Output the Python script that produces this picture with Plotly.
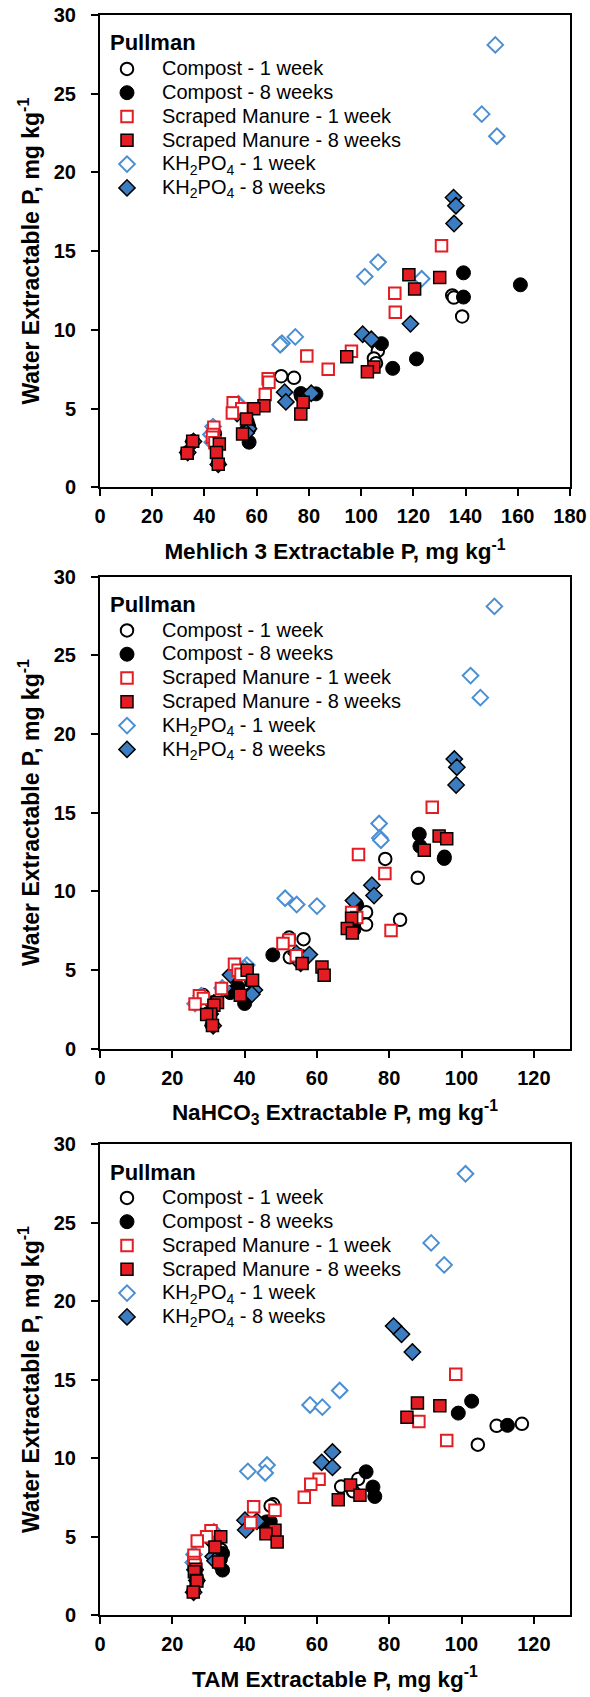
import plotly.graph_objects as go

# ---------------- data (water extractable P vs. other extraction methods) ----------------
# Compost - 1 week
c1_y      = [12.18, 12.05, 10.85, 8.66, 8.18, 7.88, 7.05, 6.95, 5.80, 4.15, 3.75, 3.40]
c1_m3     = [134.9, 135.5, 138.7, 106.4, 104.9, 105.7, 69.4, 74.3, 77.0, 56.5, 57.2, 44.0]
c1_nahco3 = [95.3, 78.9, 87.9, 73.6, 83.0, 73.6, 52.3, 56.3, 52.5, 38.5, 37.8, 28.5]
c1_tam    = [116.7, 109.7, 104.5, 71.4, 66.7, 70.0, 47.9, 47.2, 45.8, 33.5, 33.0, 26.2]

# Compost - 8 weeks
c8_y      = [13.62, 12.86, 12.08, 9.12, 8.15, 7.55, 5.95, 5.93, 5.83, 3.92, 3.55, 2.86, 2.90, 2.20, 1.50]
c8_m3     = [139.2, 161.0, 139.2, 107.8, 121.2, 112.1, 76.9, 82.7, 78.0, 56.8, 55.8, 57.1, 35.5, 33.5, 45.3]
c8_nahco3 = [88.3, 88.5, 95.2, 71.0, 70.6, 70.2, 47.8, 55.0, 56.0, 38.1, 36.0, 40.0, 31.0, 30.0, 31.0]
c8_tam    = [102.8, 99.1, 112.7, 73.6, 75.5, 76.0, 47.1, 46.0, 45.5, 33.9, 33.3, 33.9, 26.3, 26.9, 25.9]

# Scraped Manure - 1 week
sm1_y      = [15.34, 12.33, 11.12, 8.64, 8.33, 7.50, 6.89, 6.67, 5.89, 5.36, 4.98, 4.72, 3.81, 3.35, 3.18, 2.83]
sm1_m3     = [130.8, 112.9, 113.1, 96.3, 79.2, 87.4, 64.4, 64.7, 63.3, 51.0, 54.3, 50.7, 43.6, 43.3, 43.1, 44.0]
sm1_nahco3 = [91.9, 71.5, 78.8, 69.6, 71.0, 80.5, 52.3, 50.6, 54.3, 37.2, 38.2, 39.0, 33.6, 27.5, 28.6, 26.3]
sm1_tam    = [98.4, 88.2, 95.9, 60.6, 58.3, 56.5, 42.5, 48.4, 41.7, 30.7, 29.5, 26.9, 26.0, 26.0, 26.2, 26.4]

# Scraped Manure - 8 weeks
sm8_y      = [13.50, 13.33, 12.60, 8.28, 7.63, 7.34, 5.40, 5.18, 4.65, 4.98, 4.33, 3.38, 2.92, 2.75, 2.20, 2.16, 1.46]
sm8_m3     = [118.3, 130.1, 120.5, 94.5, 104.9, 102.4, 77.8, 62.8, 76.9, 58.9, 56.1, 54.6, 35.5, 45.7, 44.6, 33.4, 45.3]
sm8_nahco3 = [93.8, 95.9, 89.7, 69.6, 68.4, 69.8, 55.9, 61.4, 62.0, 40.7, 42.2, 38.8, 32.5, 31.5, 30.6, 29.5, 31.1]
sm8_tam    = [87.8, 94.0, 84.9, 69.3, 71.9, 65.9, 48.4, 45.9, 49.0, 33.4, 31.8, 32.8, 26.5, 26.1, 26.6, 26.8, 25.8]

# KH2PO4 - 1 week
k1_y      = [28.1, 23.7, 22.3, 14.3, 13.38, 13.24, 9.55, 9.15, 9.05, 5.3, 5.1, 3.85, 3.35, 2.85]
k1_m3     = [151.4, 146.2, 152.0, 106.5, 101.4, 123.2, 74.8, 69.7, 69.0, 53.0, 53.8, 43.3, 42.5, 43.0]
k1_nahco3 = [109.1, 102.5, 105.2, 77.2, 77.4, 77.7, 51.2, 54.4, 60.0, 40.6, 40.0, 33.8, 28.0, 26.3]
k1_tam    = [101.1, 91.6, 95.2, 66.3, 58.1, 61.5, 46.2, 40.9, 45.7, 31.5, 31.0, 26.0, 25.8, 26.3]

# KH2PO4 - 8 weeks
k8_y      = [18.40, 17.88, 16.75, 10.38, 9.72, 9.40, 6.04, 5.97, 5.42, 4.68, 3.72, 3.45, 2.90, 2.20, 1.45]
k8_m3     = [135.4, 136.3, 135.6, 118.9, 100.6, 103.9, 70.7, 80.9, 71.2, 52.5, 56.9, 56.0, 35.8, 33.6, 45.3]
k8_nahco3 = [98.0, 98.7, 98.5, 75.2, 75.8, 70.1, 54.3, 57.9, 55.5, 36.1, 42.7, 42.0, 31.5, 30.5, 31.3]
k8_tam    = [81.2, 83.4, 86.4, 64.3, 61.3, 64.3, 40.1, 43.4, 40.3, 31.0, 31.3, 31.8, 26.3, 26.8, 25.9]

x_titles = ["Mehlich 3 Extractable P, mg kg<sup>-1</sup>",
            "NaHCO<sub>3</sub> Extractable P, mg kg<sup>-1</sup>",
            "TAM Extractable P, mg kg<sup>-1</sup>"]
y_title = "Water Extractable P, mg kg<sup>-1</sup>"
x_ranges = [[0, 180], [0, 130], [0, 130]]
legend_title = "Pullman"

RED = "#e41c23"
BLUE = "#3b7dc0"
BLUE_EDGE = "#4a8fd2"
FONT = "Liberation Sans"

def lab(t):
    return '<span style="font-size:20px">' + t + '</span>'

series = [  # drawing order (bottom to top)
    dict(name="Compost - 1 week", y=c1_y, xs=[c1_m3, c1_nahco3, c1_tam], rank=1,
         marker=dict(symbol="circle", size=12.5, color="white", line=dict(color="black", width=2))),
    dict(name="Compost - 8 weeks", y=c8_y, xs=[c8_m3, c8_nahco3, c8_tam], rank=2,
         marker=dict(symbol="circle", size=14, color="black", line=dict(color="black", width=1))),
    dict(name="KH<sub>2</sub>PO<sub>4</sub> - 1 week", y=k1_y, xs=[k1_m3, k1_nahco3, k1_tam], rank=5,
         marker=dict(symbol="diamond", size=12, color="white", line=dict(color=BLUE_EDGE, width=2))),
    dict(name="KH<sub>2</sub>PO<sub>4</sub> - 8 weeks", y=k8_y, xs=[k8_m3, k8_nahco3, k8_tam], rank=6,
         marker=dict(symbol="diamond", size=12.5, color=BLUE, line=dict(color="black", width=1.5))),
    dict(name="Scraped Manure - 1 week", y=sm1_y, xs=[sm1_m3, sm1_nahco3, sm1_tam], rank=3,
         marker=dict(symbol="square", size=11.5, color="white", line=dict(color=RED, width=2))),
    dict(name="Scraped Manure - 8 weeks", y=sm8_y, xs=[sm8_m3, sm8_nahco3, sm8_tam], rank=4,
         marker=dict(symbol="square", size=12, color=RED, line=dict(color="black", width=1.5))),
]

fig = go.Figure()
legends = ["legend", "legend2", "legend3"]
for p in range(3):
    xa = "x" if p == 0 else f"x{p+1}"
    ya = "y" if p == 0 else f"y{p+1}"
    for s in series:
        fig.add_trace(go.Scatter(
            x=s["xs"][p], y=s["y"], mode="markers", name=lab(s["name"]),
            xaxis=xa, yaxis=ya, legend=legends[p], legendrank=s["rank"],
            marker=s["marker"], showlegend=True))

W, H = 590, 1697
ML, MR, MT, MB = 100, 20, 15, 82
plot_h = H - MT - MB

def py(px):  # page pixel -> paper y
    return (H - MB - px) / plot_h

def pxx(px):  # page pixel -> paper x
    return (px - ML) / (W - ML - MR)

domains = [[py(487.2), 1.0], [py(1048.5), py(576.5)], [0.0, py(1144)]]
panel_tops = [15, 576.5, 1144]

axis_common = dict(showline=True, linecolor="black", linewidth=2, mirror=True,
                   ticks="outside", ticklen=7, tickwidth=1.5, tickcolor="black",
                   showgrid=False, zeroline=False,
                   tickfont=dict(family=FONT, size=20, color="black", weight="bold"))

layout = dict(width=W, height=H, margin=dict(l=ML, r=MR, t=MT, b=MB),
              paper_bgcolor="white", plot_bgcolor="white",
              font=dict(family=FONT, color="black"))
annotations = []
for p in range(3):
    xk = "xaxis" if p == 0 else f"xaxis{p+1}"
    yk = "yaxis" if p == 0 else f"yaxis{p+1}"
    ya = "y" if p == 0 else f"y{p+1}"
    xa = "x" if p == 0 else f"x{p+1}"
    layout[xk] = dict(axis_common, domain=[0, 1], anchor=ya, range=x_ranges[p],
                      dtick=20, tick0=0, automargin=False, ticklabelstandoff=3,
                      title=dict(text=x_titles[p], standoff=17,
                                 font=dict(family=FONT, size=22.5, color="black", weight="bold")))
    layout[yk] = dict(axis_common, domain=domains[p], anchor=xa, range=[0, 30],
                      dtick=5, tick0=0, automargin=False, ticklabelstandoff=11,
                      title=dict(text=y_title, standoff=8,
                                 font=dict(family=FONT, size=23, color="black", weight="bold")))
    top = panel_tops[p]
    layout[legends[p]] = dict(x=pxx(92), xanchor="left", y=py(top + 37), yanchor="top",
                              bgcolor="rgba(0,0,0,0)", itemwidth=60, tracegroupgap=0,
                              font=dict(family=FONT, size=16, color="black"),
                              itemclick=False)
    annotations.append(dict(text="<b>" + legend_title + "</b>", xref="paper", yref="paper",
                            x=pxx(108), y=py(top + 28), xanchor="left", yanchor="middle",
                            showarrow=False, font=dict(family=FONT, size=22, color="black")))
layout["annotations"] = annotations
fig.update_layout(**layout)
fig.write_html("out.html")
